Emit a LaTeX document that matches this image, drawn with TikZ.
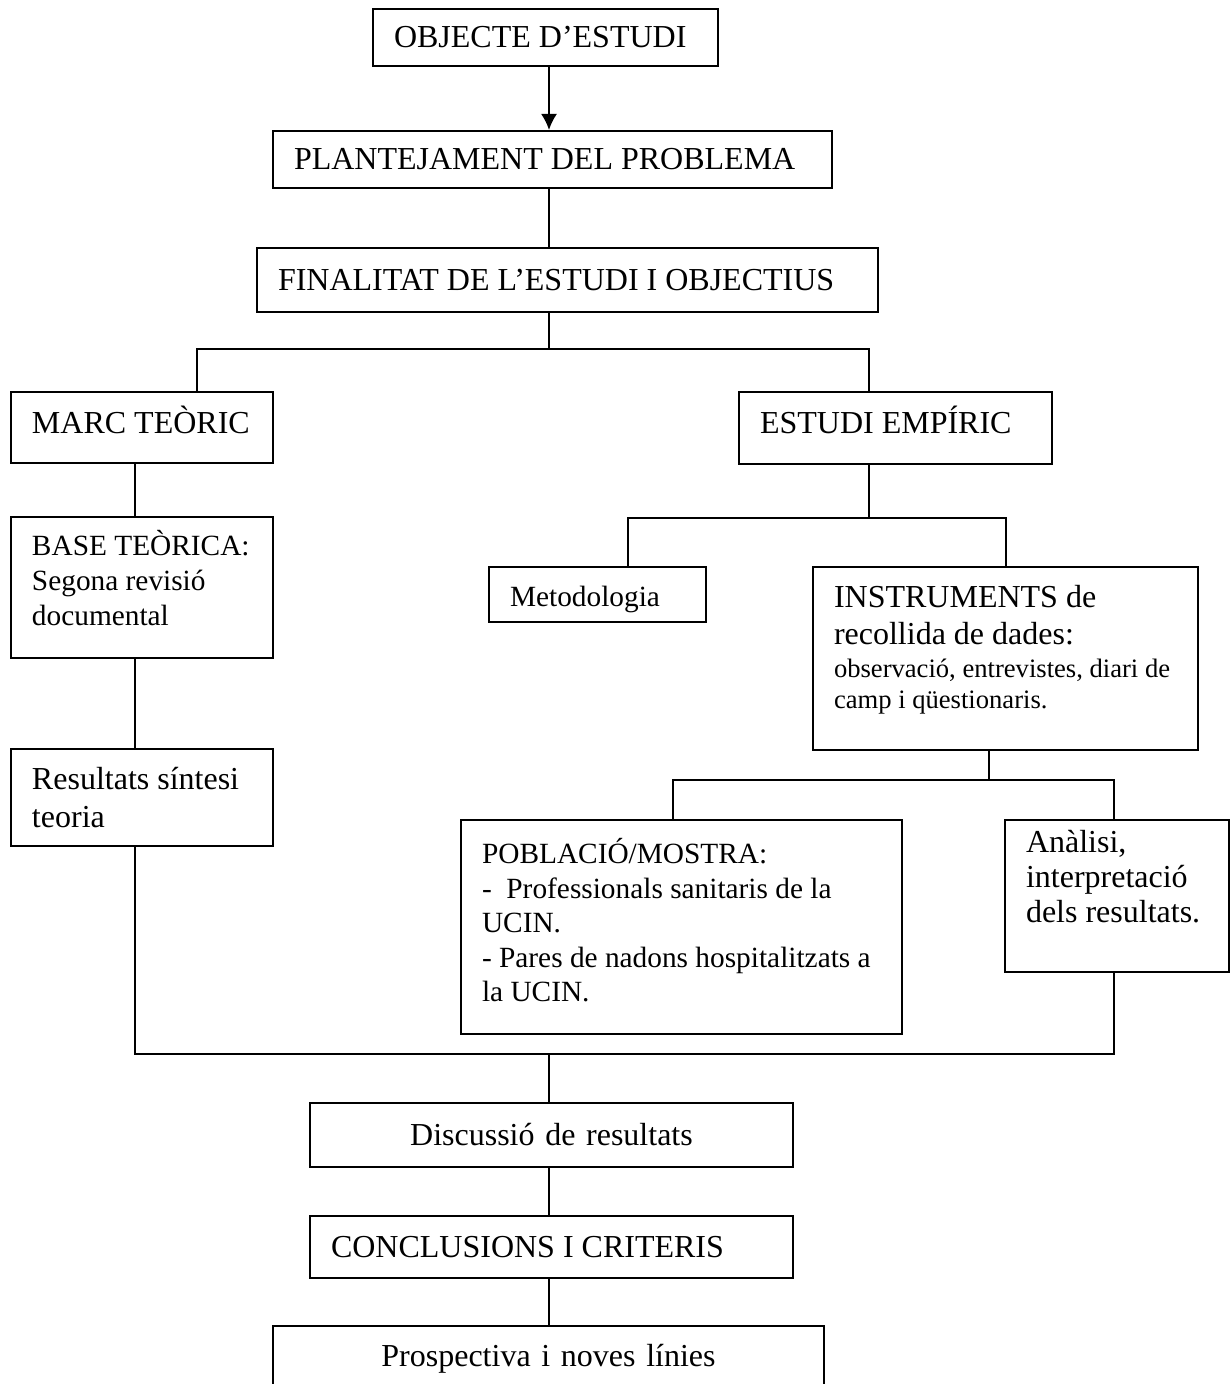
\documentclass[tikz,border=0pt]{standalone}
\usepackage{fontspec}
\setmainfont{Liberation Serif}
\usetikzlibrary{arrows.meta}
% extra depth on the last line lifts the text inside its box
\newcommand{\lift}[1]{\rule[-#1]{0pt}{#1}}
% extra height on the first line lowers it
\newcommand{\sink}[1]{\rule{0pt}{#1}}

\begin{document}
\begin{tikzpicture}[x=0.5pt, y=-0.5pt, >={Latex[length=8pt, width=8pt]},
    box/.style={draw, line width=1pt, align=flush left, inner xsep=10.5pt, inner ysep=2pt,
      font=\fontsize{16}{17.5}\selectfont},
    smallbox/.style={box, font=\fontsize{14.67}{17.5}\selectfont},
    link/.style={line width=1pt}]
    \useasboundingbox (0,0) rectangle (1231,1384);
    \clip (0,0) rectangle (1231,1384);

    % main column
    \node[box, text width=151.5pt, minimum height=28.5pt] (obj) at (545.5,37.5) {OBJECTE D’ESTUDI};
    \node[box, text width=258.5pt, minimum height=28.5pt] (plan) at (552.5,159.5) {PLANTEJAMENT DEL PROBLEMA};
    \node[box, text width=289.5pt, minimum height=32pt] (fin) at (567.5,280) {FINALITAT DE L’ESTUDI I OBJECTIUS};

    % theory branch
    \node[box, text width=110pt, minimum height=35.5pt] (marc) at (142,427.5) {MARC~TEÒRIC\lift{8pt}};
    \node[smallbox, text width=110pt, minimum height=70.5pt] (base) at (142,587.5)
      {BASE TEÒRICA:\\ Segona revisió\\ documental\lift{10pt}};
    \node[box, text width=110pt, minimum height=48.5pt, font=\fontsize{16}{19}\selectfont] (res) at (142,797.5)
      {Resultats~síntesi\\ teoria};

    % empirical branch
    \node[box, text width=135.5pt, minimum height=36pt] (emp) at (895.5,428) {ESTUDI EMPÍRIC\lift{8.5pt}};
    \node[smallbox, text width=87.5pt, minimum height=27.5pt] (met) at (597.5,594.5) {\sink{15pt}Metodologia};
    \node[box, text width=171.5pt, minimum height=91.5pt] (ins) at (1005.5,658.5)
      {INSTRUMENTS de\\[1pt] recollida de dades:\\[1.5pt]
       {\fontsize{13.3}{15}\selectfont observació,~entrevistes,~diari~de\\[-2pt] camp i qüestionaris.\lift{12pt}}};
    \node[smallbox, text width=199.5pt, minimum height=107pt, font=\fontsize{14.67}{17.25}\selectfont] (pob) at (681.5,927)
      {POBLACIÓ/MOSTRA:\\ \mbox{-~~Professionals sanitaris de la}\\ UCIN.\\
       \mbox{- Pares de nadons hospitalitzats a}\\ la UCIN.\lift{7pt}};
    \node[box, text width=91pt, minimum height=76pt] (ana) at (1117,896)
      {Anàlisi,\\ interpretació\\ dels~resultats.\lift{20pt}};

    % closing column
    \node[box, align=center, text width=220.5pt, minimum height=32pt] (disc) at (551.5,1135) {Discussió de resultats};
    \node[box, text width=220.5pt, minimum height=31pt] (conc) at (551.5,1247) {CONCLUSIONS I CRITERIS};
    \node[box, align=center, text width=254.5pt, minimum height=33pt] (pros) at (548.5,1359) {Prospectiva i noves línies};

    % connector points
    \coordinate (spine) at (549,0);
    \coordinate (fork) at (549,349);
    \coordinate (forkL) at (197,349);
    \coordinate (forkR) at (869,349);
    \coordinate (empfork) at (869,518);
    \coordinate (metdrop) at (628,518);
    \coordinate (insdrop) at (1006,518);
    \coordinate (insfork) at (989,780);
    \coordinate (pobdrop) at (673,780);
    \coordinate (anadrop) at (1114,780);
    \coordinate (join) at (549,1054);
    \coordinate (joinL) at (135,1054);
    \coordinate (joinR) at (1114,1054);

    \draw[link, ->] (obj.south -| spine) -- (plan.north -| spine);
    \draw[link] (plan.south -| spine) -- (fin.north -| spine);
    \draw[link] (fin.south -| spine) -- (fork);
    \draw[link] (marc.north -| forkL) -- (forkL) -- (forkR) -- (emp.north -| forkR);
    \draw[link] (marc.south -| joinL) -- (base.north -| joinL);
    \draw[link] (base.south -| joinL) -- (res.north -| joinL);
    \draw[link] (res.south -| joinL) -- (joinL) -- (joinR) -- (ana.south -| joinR);
    \draw[link] (emp.south -| empfork) -- (empfork);
    \draw[link] (met.north -| metdrop) -- (metdrop) -- (insdrop) -- (ins.north -| insdrop);
    \draw[link] (ins.south -| insfork) -- (insfork);
    \draw[link] (pob.north -| pobdrop) -- (pobdrop) -- (anadrop) -- (ana.north -| anadrop);
    \draw[link] (join) -- (disc.north -| join);
    \draw[link] (disc.south -| join) -- (conc.north -| join);
    \draw[link] (conc.south -| join) -- (pros.north -| join);
\end{tikzpicture}
\end{document}
